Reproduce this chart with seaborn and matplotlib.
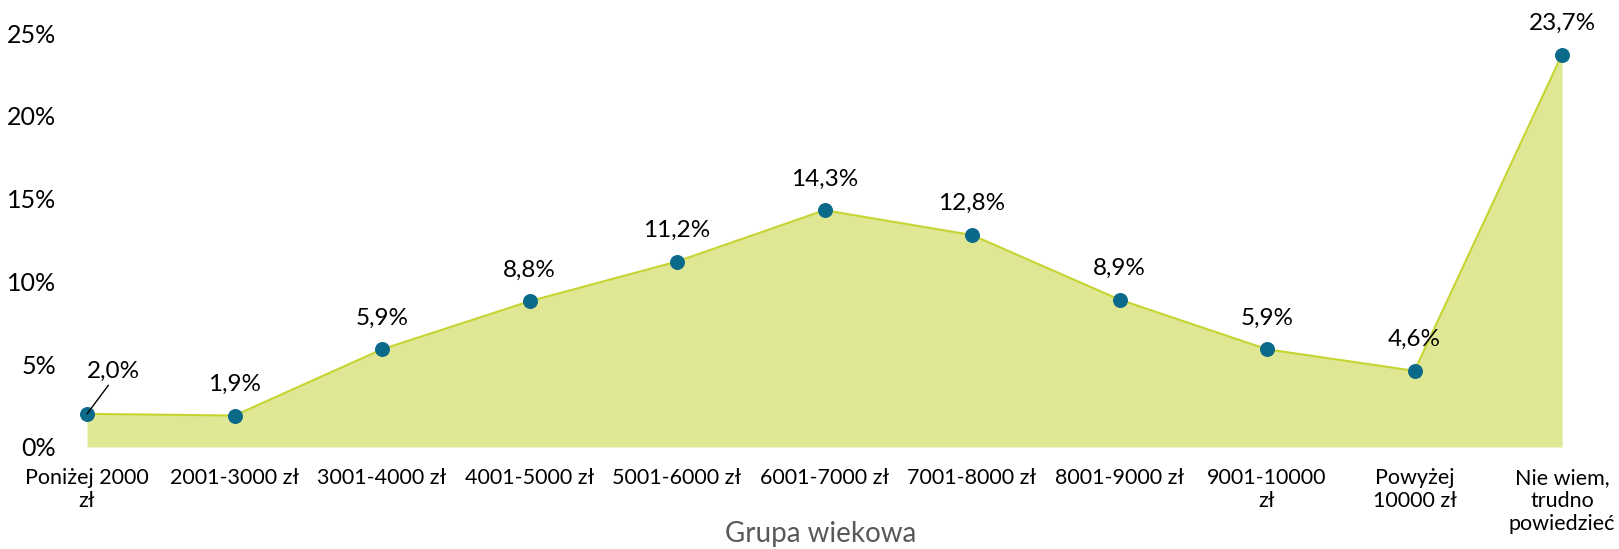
import matplotlib
matplotlib.use("Agg")
import matplotlib.pyplot as plt
import seaborn as sns
import numpy as np
import pandas as pd

categories = ["Poniżej 2000\nzł", "2001-3000 zł", "3001-4000 zł", "4001-5000 zł",
              "5001-6000 zł", "6001-7000 zł", "7001-8000 zł", "8001-9000 zł",
              "9001-10000\nzł", "Powyżej\n10000 zł", "Nie wiem,\ntrudno\npowiedzieć"]
values = [2.0, 1.9, 5.9, 8.8, 11.2, 14.3, 12.8, 8.9, 5.9, 4.6, 23.7]
y_ticks = [0, 5, 10, 15, 20, 25]
x_title = "Grupa wiekowa"

sns.set_theme(style="white")
plt.rcParams['font.family'] = ['Lato', 'DejaVu Sans']

df = pd.DataFrame({"pos": np.arange(len(values)), "val": values})

fig = plt.figure(figsize=(16.19, 5.49), dpi=100)
ax = fig.add_axes([57.5/1619, 1-447/549, (1591.5-57.5)/1619, (447-33)/549])

ax.fill_between(df["pos"], 0, df["val"], color="#DFE795", linewidth=0, zorder=1)
sns.lineplot(data=df, x="pos", y="val", ax=ax, color="#C5D430", linewidth=1.5,
             marker="o", markersize=10, markerfacecolor="#0B6A8A",
             markeredgecolor="#0B6A8A", sort=False, zorder=3, clip_on=False)

for i, v in enumerate(values):
    label = f"{v:.1f}%".replace(".", ",")
    if i == 0:
        ax.annotate(label, xy=(i, v), xytext=(0, 23), textcoords="offset points",
                    ha="left", va="bottom", fontsize=17.5, color="#000000",
                    arrowprops=dict(arrowstyle="-", color="#000000", lw=1,
                                    shrinkA=0, shrinkB=0, relpos=(0.45, 0)))
    else:
        ax.annotate(label, xy=(i, v), xytext=(0, 15), textcoords="offset points",
                    ha="center", va="bottom", fontsize=17.5, color="#000000")

ax.set_xlim(-0.2, len(values) - 1 + 0.2)
ax.set_ylim(0, 25)
ax.set_yticks(y_ticks)
ax.set_yticklabels([f"{t}%" for t in y_ticks], fontsize=18, color="#000000")
ax.set_xticks(np.arange(len(categories)))
ax.set_xticklabels(categories, fontsize=15.5, color="#000000", linespacing=1.2)
ax.tick_params(axis="x", length=0, pad=15)
ax.tick_params(axis="y", length=0, pad=1)
ax.set_xlabel("")
ax.set_ylabel("")
for s in ax.spines.values():
    s.set_visible(False)

fig.text(821/1619, 2/549, x_title, ha="center", va="bottom", fontsize=20,
         color="#595959")

fig.savefig("out.png", dpi=100)
